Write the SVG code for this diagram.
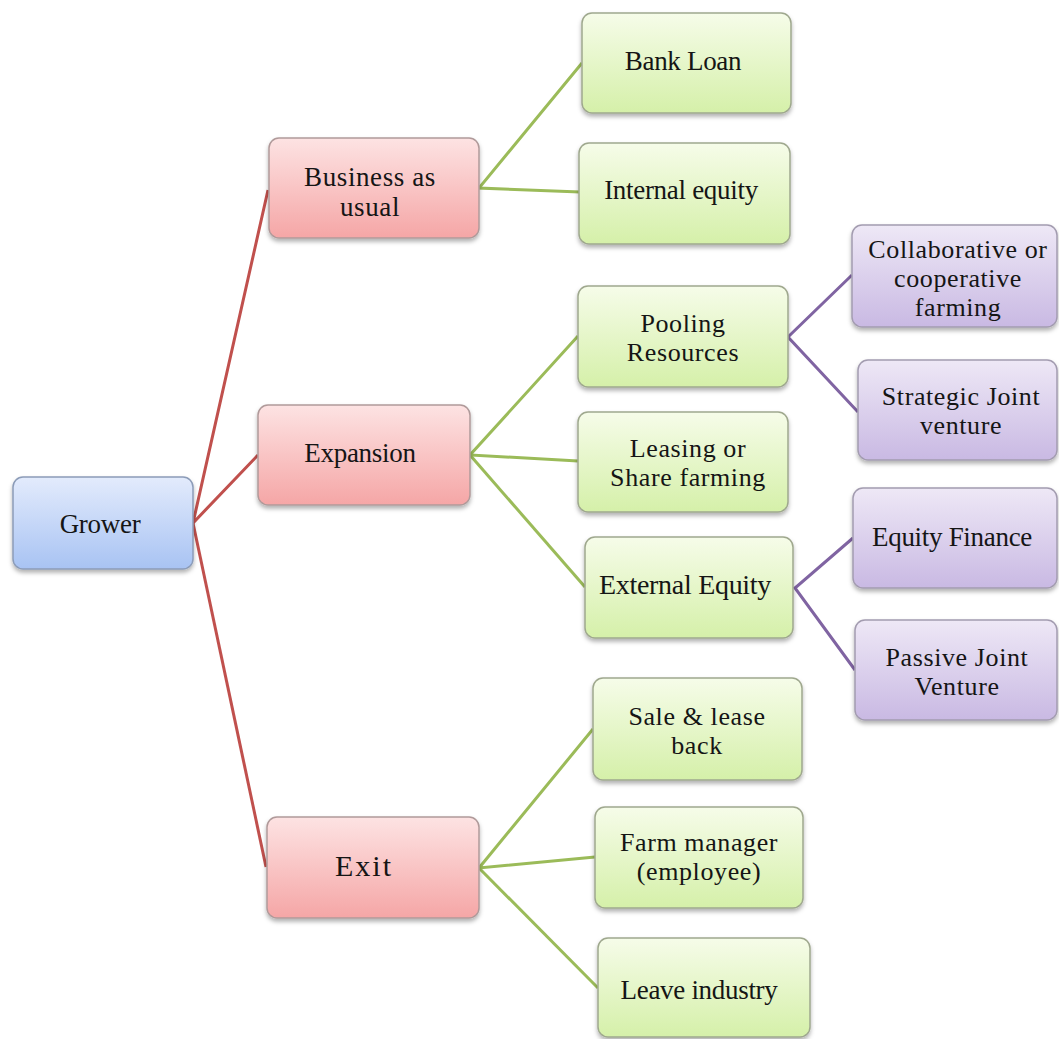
<svg xmlns="http://www.w3.org/2000/svg" width="1059" height="1039" viewBox="0 0 1059 1039">
<defs>
<linearGradient id="gBlue" x1="0" y1="0" x2="0" y2="1"><stop offset="0" stop-color="#e3ebfc"/><stop offset="1" stop-color="#a8c3f3"/></linearGradient>
<linearGradient id="gRed" x1="0" y1="0" x2="0" y2="1"><stop offset="0" stop-color="#fde3e3"/><stop offset="1" stop-color="#f5a6a6"/></linearGradient>
<linearGradient id="gGreen" x1="0" y1="0" x2="0" y2="1"><stop offset="0" stop-color="#f6fce9"/><stop offset="1" stop-color="#d5f0a9"/></linearGradient>
<linearGradient id="gPurple" x1="0" y1="0" x2="0" y2="1"><stop offset="0" stop-color="#eee8f6"/><stop offset="1" stop-color="#c9b9e3"/></linearGradient>
<filter id="sh" x="-10%" y="-10%" width="120%" height="130%"><feDropShadow dx="0" dy="3" stdDeviation="2" flood-color="#000" flood-opacity="0.3"/></filter>
</defs>
<style>
.box{stroke:#9a9a9a;stroke-width:1.5;filter:url(#sh)}
.blue{fill:url(#gBlue);stroke:#8c9cb8}
.red{fill:url(#gRed);stroke:#b09a9a}
.green{fill:url(#gGreen);stroke:#9fa88e}
.purple{fill:url(#gPurple);stroke:#a39cb0}
text{font-family:"Liberation Serif","Times New Roman",serif;fill:#151515;text-anchor:middle}
.t{font-size:27px;letter-spacing:-0.3px}
.w{font-size:26px;letter-spacing:0.6px}
.cr{stroke:#c0504d;stroke-width:3;fill:none}
.cg{stroke:#9bbb59;stroke-width:3;fill:none}
.cp{stroke:#8064a2;stroke-width:3;fill:none}
</style>
<g id="connectors">
<polyline class="cr" points="268,190 193,523 258,455"/>
<polyline class="cr" points="193,523 266,867"/>
<polyline class="cg" points="582,63 479,188 580,192"/>
<polyline class="cg" points="578,336 470,455 578,461"/>
<polyline class="cg" points="470,455 585,587"/>
<polyline class="cg" points="593,729 479,868 595,857"/>
<polyline class="cg" points="479,868 598,988"/>
<polyline class="cp" points="852,275 788,337 858,412"/>
<polyline class="cp" points="853,538 795,588 855,670"/>
</g>
<g id="grower"><rect class="box blue" x="13" y="477" width="180" height="92" rx="10"/><text class="t" x="100" y="533">Grower</text></g>
<g id="business"><rect class="box red" x="269" y="138" width="210" height="100" rx="10"/><text style="font-size:27px;letter-spacing:0.6px" x="370" y="186">Business as</text><text style="font-size:27px;letter-spacing:0.6px" x="370" y="216">usual</text></g>
<g id="expansion"><rect class="box red" x="258" y="405" width="212" height="100" rx="10"/><text class="t" x="360" y="462">Expansion</text></g>
<g id="exit"><rect class="box red" x="267" y="817" width="212" height="101" rx="10"/><text style="font-size:30px;letter-spacing:2px" x="364" y="876">Exit</text></g>
<g id="bankloan"><rect class="box green" x="582" y="13" width="209" height="100" rx="10"/><text class="t" x="683" y="70">Bank Loan</text></g>
<g id="internal"><rect class="box green" x="579" y="143" width="211" height="101" rx="10"/><text class="t" x="681" y="199">Internal equity</text></g>
<g id="pooling"><rect class="box green" x="578" y="286" width="210" height="101" rx="10"/><text class="w" x="683" y="332">Pooling</text><text class="w" x="683" y="361">Resources</text></g>
<g id="leasing"><rect class="box green" x="578" y="412" width="210" height="100" rx="10"/><text class="w" x="688" y="457">Leasing or</text><text class="w" x="688" y="486">Share farming</text></g>
<g id="external"><rect class="box green" x="585" y="537" width="208" height="101" rx="10"/><text class="t" style="font-size:28px" x="685" y="594">External Equity</text></g>
<g id="sale"><rect class="box green" x="593" y="678" width="209" height="102" rx="10"/><text class="w" x="697" y="725">Sale &amp; lease</text><text class="w" x="697" y="754">back</text></g>
<g id="farmmanager"><rect class="box green" x="595" y="807" width="208" height="101" rx="10"/><text class="w" x="699" y="851">Farm manager</text><text class="w" x="699" y="880">(employee)</text></g>
<g id="leave"><rect class="box green" x="598" y="938" width="212" height="99" rx="10"/><text class="t" x="699" y="999">Leave industry</text></g>
<g id="collab"><rect class="box purple" x="852" y="225" width="205" height="102" rx="10"/><text class="w" x="958" y="258">Collaborative or</text><text class="w" x="958" y="287">cooperative</text><text class="w" x="958" y="316">farming</text></g>
<g id="strategic"><rect class="box purple" x="858" y="360" width="199" height="100" rx="10"/><text class="w" x="961" y="405">Strategic Joint</text><text class="w" x="961" y="434">venture</text></g>
<g id="equityfinance"><rect class="box purple" x="853" y="488" width="204" height="100" rx="10"/><text class="t" x="952" y="546">Equity Finance</text></g>
<g id="passive"><rect class="box purple" x="855" y="620" width="202" height="100" rx="10"/><text class="w" x="957" y="666">Passive Joint</text><text class="w" x="957" y="695">Venture</text></g>
</svg>
